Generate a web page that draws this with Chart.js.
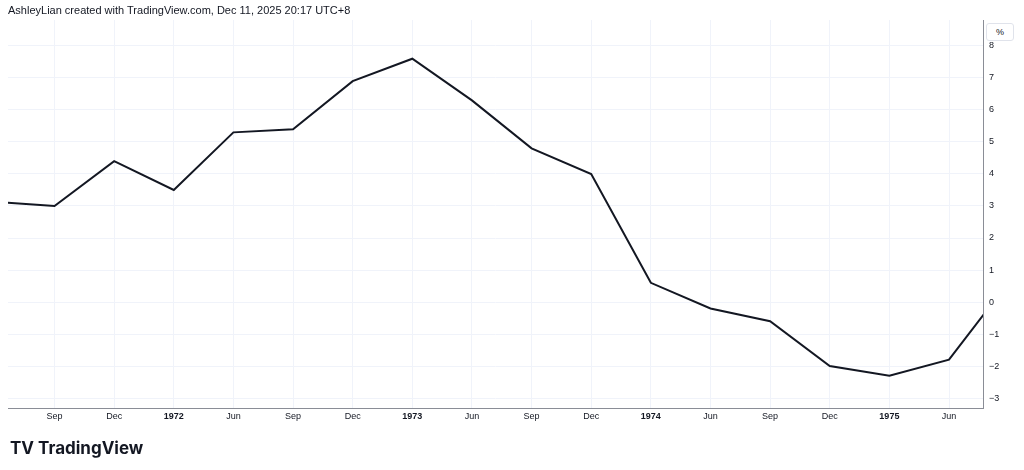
<!DOCTYPE html>
<html><head><meta charset="utf-8">
<script src="https://cdn.jsdelivr.net/npm/chart.js@4/dist/chart.umd.min.js"></script>
<style>
body{margin:0;background:#fff;font-family:"Liberation Sans",Arial,sans-serif;}
#wrap{position:relative;width:1024px;height:470px;}
canvas{position:absolute;left:0;top:0;}
#hdr{position:absolute;left:8px;top:4px;font-size:11px;color:#131722;}
#logo{position:absolute;left:10px;top:438px;font-size:17px;font-weight:bold;color:#131722;font-family:Inter,"Liberation Sans",sans-serif;}
#pct{position:absolute;left:986px;top:23px;width:26px;height:16px;border:1px solid #e0e3eb;border-radius:3px;font-size:9px;color:#131722;text-align:center;line-height:16px;background:#fff;}
</style></head><body>
<div id="wrap">
<canvas id="c" width="1024" height="470"></canvas>
<div id="hdr">AshleyLian created with TradingView.com, Dec 11, 2025 20:17 UTC+8</div>
<div id="pct">%</div>
<div id="logo">TV TradingView</div>
</div>
<script>
const quarters = ["Jun","Sep","Dec","1972","Jun","Sep","Dec","1973","Jun","Sep","Dec","1974","Jun","Sep","Dec","1975","Jun","Sep"];
const values = [3.13,3.0,4.4,3.5,5.3,5.4,6.9,7.6,6.3,4.8,4.0,0.6,-0.2,-0.6,-2.0,-2.3,-1.8,0.63];
const yTicks = [-3,-2,-1,0,1,2,3,4,5,6,7,8];
const pts = values.map((v,i)=>({x:i,y:v}));
new Chart(document.getElementById('c'),{
 type:'line',
 data:{datasets:[{data:pts,borderColor:'#131722',borderWidth:2,pointRadius:0,tension:0}]},
 options:{responsive:false,animation:false,
  layout:{padding:{left:8,top:20,bottom:40,right:0}},
  plugins:{legend:{display:false},tooltip:{enabled:false}},
  scales:{
   x:{type:'linear',min:0.22,max:16.57,
     afterFit:s=>{s.height=22;},
     afterBuildTicks:s=>{s.ticks=[];for(let i=1;i<=16;i++)s.ticks.push({value:i});},
     ticks:{autoSkip:false,maxRotation:0,color:'#131722',
       font:c=>({size:9,weight:(c&&c.tick&&/^\d{4}$/.test(quarters[c.tick.value]))?'bold':'normal'}),
       callback:v=>quarters[v]},
     grid:{color:'#f0f3fa',drawTicks:false},border:{color:'#8a8d96'}},
   y:{position:'right',min:-3.31,max:8.81,
     afterFit:s=>{s.width=41;},
     afterBuildTicks:s=>{s.ticks=yTicks.map(v=>({value:v}));},
     ticks:{color:'#131722',font:{size:9},padding:6,callback:v=>v<0?'\u2212'+Math.abs(v):v},
     grid:{color:'#f0f3fa',drawTicks:false},border:{color:'#8a8d96'}}
  }}
});
</script></body></html>
